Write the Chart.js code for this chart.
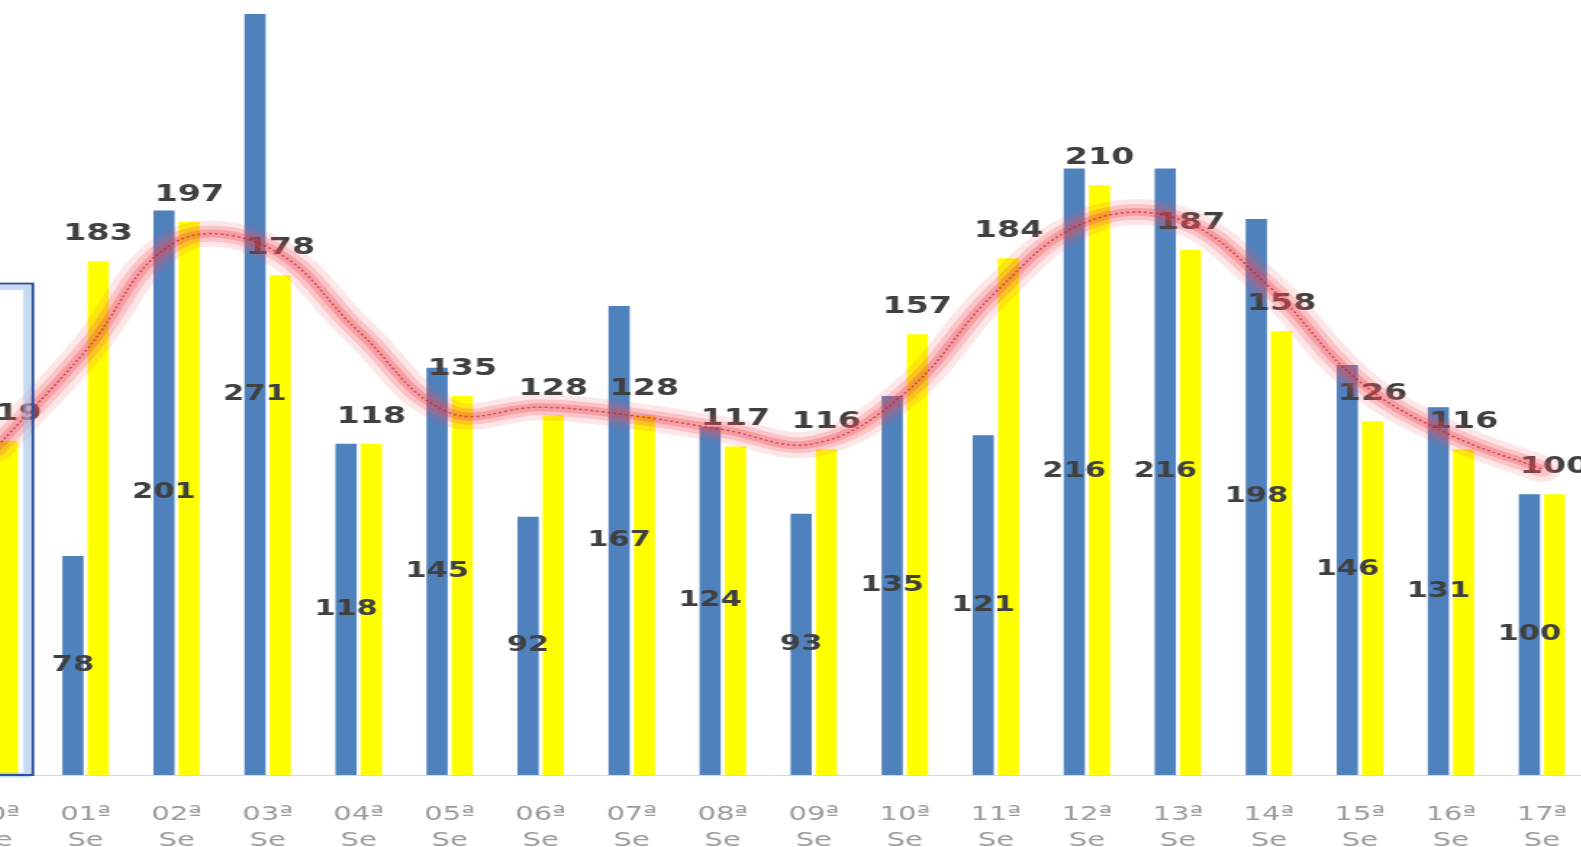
<!DOCTYPE html>
<html>
<head>
<meta charset="utf-8">
<script src="https://cdn.jsdelivr.net/npm/chart.js@4.4.1/dist/chart.umd.min.js"></script>
<style>
  html, body { margin: 0; padding: 0; background: #fff; overflow: hidden; width: 1581px; height: 847px; }
  /* the original picture is stretched sideways, so the whole chart is too */
  #wrap { position: absolute; left: -51.45px; top: 0; width: 1130px; height: 847px; transform: scaleX(1.45); transform-origin: 0 0; }
</style>
</head>
<body>
<div id="wrap"><canvas id="semanas" width="1130" height="847"></canvas></div>
<script>
// Weeks (first one is cut off on the left edge)
var weeks = ['00ª', '01ª', '02ª', '03ª', '04ª', '05ª', '06ª', '07ª', '08ª', '09ª',
             '10ª', '11ª', '12ª', '13ª', '14ª', '15ª', '16ª', '17ª'];
var subLabel = 'Se';

// Blue bars (value of week 00 is hidden)
var blueValues = [null, 78, 201, 271, 118, 145, 92, 167, 124, 93, 135, 121, 216, 216, 198, 146, 131, 100];
// Yellow bars
var yellowValues = [119, 183, 197, 178, 118, 135, 128, 128, 117, 116, 157, 184, 210, 187, 158, 126, 116, 100];
// Red smoothed trend line
var trendValues = [116, 151, 190, 188, 158, 129, 131, 128, 123, 118, 136, 172, 197, 198, 174, 140, 121, 109];

var yMax = 276;

Chart.defaults.font.family = "'DejaVu Sans', Verdana, sans-serif";

// value labels: blue ones in the middle of the bar, yellow ones above the bar.
// Drawn once both bar sets are down, so the trend line still goes over them.
var barLabels = {
    id: 'barLabels',
    afterDatasetDraw: function (chart, args) {
        if (args.index !== 0) return;
        var ctx = chart.ctx;
        ctx.save();
        ctx.fillStyle = '#404040';
        ctx.textAlign = 'center';
        ctx.textBaseline = 'middle';
        [0, 1].forEach(function (d) {
            var ds = chart.data.datasets[d];
            var meta = chart.getDatasetMeta(d);
            meta.data.forEach(function (bar, i) {
                var v = ds.data[i];
                if (v === null || v === undefined) return;
                if (ds.labelInside) {
                    ctx.font = "bold 21px 'DejaVu Sans'";
                    ctx.fillText(v, bar.x, (bar.y + bar.base) / 2);
                } else {
                    ctx.font = "bold 23px 'DejaVu Sans'";
                    ctx.fillText(v, bar.x, bar.y - 27);
                }
            });
        });
        ctx.restore();
    }
};

// the blue selection frame around the first week
var selectionBox = {
    id: 'selectionBox',
    afterDraw: function (chart) {
        var x = chart.scales.x, y = chart.scales.y, ctx = chart.ctx;
        var step = x.getPixelForValue(1) - x.getPixelForValue(0);
        var right = x.getPixelForValue(0) + step * 0.42;
        var top = y.getPixelForValue(175);
        var bottom = y.getPixelForValue(0);
        ctx.save();
        ctx.strokeStyle = 'rgba(150, 190, 235, 0.55)';
        ctx.lineWidth = 5;
        ctx.strokeRect(-20, top + 4, right - 4 + 20, bottom - top - 4);
        ctx.strokeStyle = '#2f4f9f';
        ctx.lineWidth = 2;
        ctx.strokeRect(-20, top, right + 20, bottom - top);
        ctx.restore();
    }
};

var ctx = document.getElementById('semanas').getContext('2d');
var chart = new Chart(ctx, {
    type: 'bar',
    data: {
        labels: weeks.map(function (w) { return [w, subLabel]; }),
        datasets: [{
            type: 'bar',
            label: 'Azul',
            data: blueValues,
            backgroundColor: '#4f81bd',
            labelInside: true,
            order: 10
        }, {
            type: 'bar',
            label: 'Amarillo',
            data: yellowValues,
            backgroundColor: '#ffff00',
            labelInside: false,
            order: 10
        }, {
            // glow around the trend line
            type: 'line',
            data: trendValues,
            borderColor: 'rgba(240, 90, 100, 0.15)',
            borderWidth: 26,
            tension: 0.4,
            pointRadius: 0,
            fill: false,
            borderCapStyle: 'round',
            order: 5
        }, {
            type: 'line',
            data: trendValues,
            borderColor: 'rgba(240, 80, 90, 0.23)',
            borderWidth: 16,
            tension: 0.4,
            pointRadius: 0,
            fill: false,
            borderCapStyle: 'round',
            order: 4
        }, {
            type: 'line',
            data: trendValues,
            borderColor: 'rgba(235, 70, 80, 0.3)',
            borderWidth: 8,
            tension: 0.4,
            pointRadius: 0,
            fill: false,
            order: 3
        }, {
            // dotted core of the line
            type: 'line',
            label: 'Tendencia',
            data: trendValues,
            borderColor: 'rgba(180, 40, 50, 0.7)',
            borderWidth: 1.5,
            borderDash: [2, 2],
            tension: 0.4,
            pointRadius: 0,
            fill: false,
            order: 2
        }]
    },
    options: {
        responsive: false,
        animation: false,
        layout: { padding: 0 },
        categoryPercentage: 0.554,
        barPercentage: 0.84,
        plugins: {
            legend: { display: false },
            tooltip: { enabled: false }
        },
        scales: {
            x: {
                offset: true,
                grid: {
                    display: true,
                    color: 'rgba(0,0,0,0)',
                    drawOnChartArea: false,
                    drawTicks: true,
                    tickLength: 27,
                    tickColor: 'rgba(0,0,0,0)'
                },
                border: { display: true, color: '#d9d9d9', width: 1 },
                ticks: {
                    color: '#9a9a9a',
                    font: { size: 20, lineHeight: 1.3 },
                    padding: 0,
                    maxRotation: 0,
                    autoSkip: false
                },
                afterFit: function (scale) { scale.height = 72; }
            },
            y: {
                display: false,
                min: 0,
                max: yMax
            }
        }
    },
    plugins: [barLabels, selectionBox]
});
</script>
</body>
</html>
